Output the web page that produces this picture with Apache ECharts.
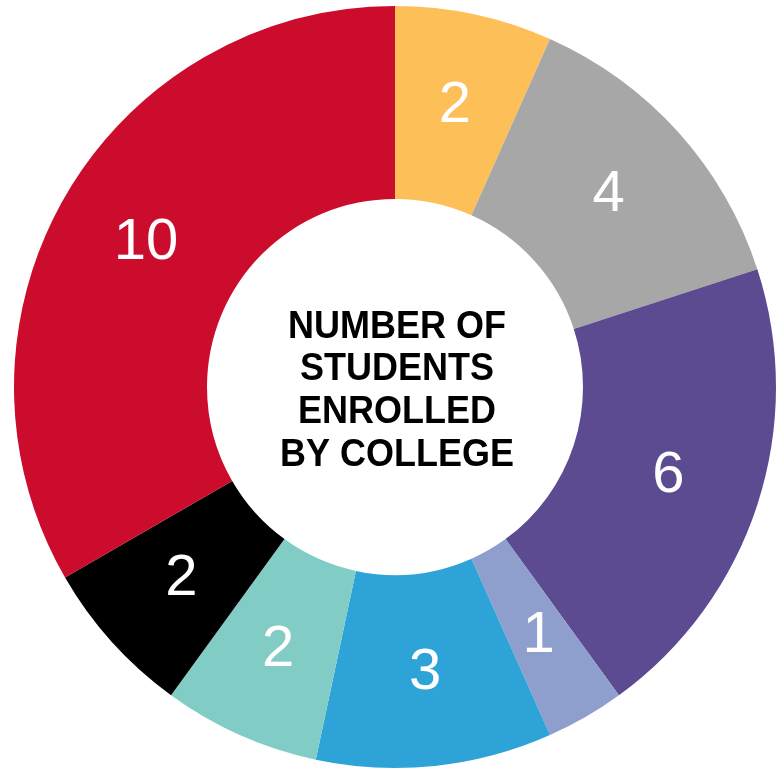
<!DOCTYPE html>
<html>
<head>
<meta charset="utf-8">
<script src="https://cdn.jsdelivr.net/npm/echarts@6/dist/echarts.min.js"></script>
<style>
html,body{margin:0;padding:0;background:#fff;}
#chart{width:784px;height:774px;}
</style>
</head>
<body>
<div id="chart"></div>
<script>
const colleges = ['College A','College B','College C','College D','College E','College F','College G','College H'];
const students = [2, 4, 6, 1, 3, 2, 2, 10];
const sliceColors = ['#FDBF57','#A7A7A7','#5C4B91','#8F9FCD','#2EA3D8','#82CCC6','#000000','#CC0C2C'];
const centerTitle = 'NUMBER OF\nSTUDENTS\nENROLLED\nBY COLLEGE';

const chart = echarts.init(document.getElementById('chart'), null, {renderer:'canvas'});
chart.setOption({
  animation: false,
  backgroundColor: '#ffffff',
  graphic: [{
    type: 'text',
    x: 0, y: 0,
    scaleY: 1.08,
    originX: 395, originY: 390,
    style: {
      text: centerTitle,
      x: 397, y: 391,
      textAlign: 'center',
      textVerticalAlign: 'middle',
      fontFamily: 'Liberation Sans, Arial, Helvetica, sans-serif',
      fontWeight: 'bold',
      fontSize: 36,
      lineHeight: 39.5,
      fill: '#000'
    }
  }],
  series: [{
    type: 'pie',
    center: [395, 387],
    radius: [188, 381],
    startAngle: 90,
    clockwise: true,
    silent: true,
    label: {
      show: true,
      position: 'inside',
      formatter: '{c}',
      color: '#ffffff',
      fontSize: 58,
      fontFamily: 'Liberation Sans, Arial, Helvetica, sans-serif',
      fontWeight: 'normal'
    },
    labelLine: {show: false},
    itemStyle: {borderWidth: 0},
    data: colleges.map((n, i) => ({name: n, value: students[i], itemStyle: {color: sliceColors[i]}}))
  }]
});
</script>
</body>
</html>
